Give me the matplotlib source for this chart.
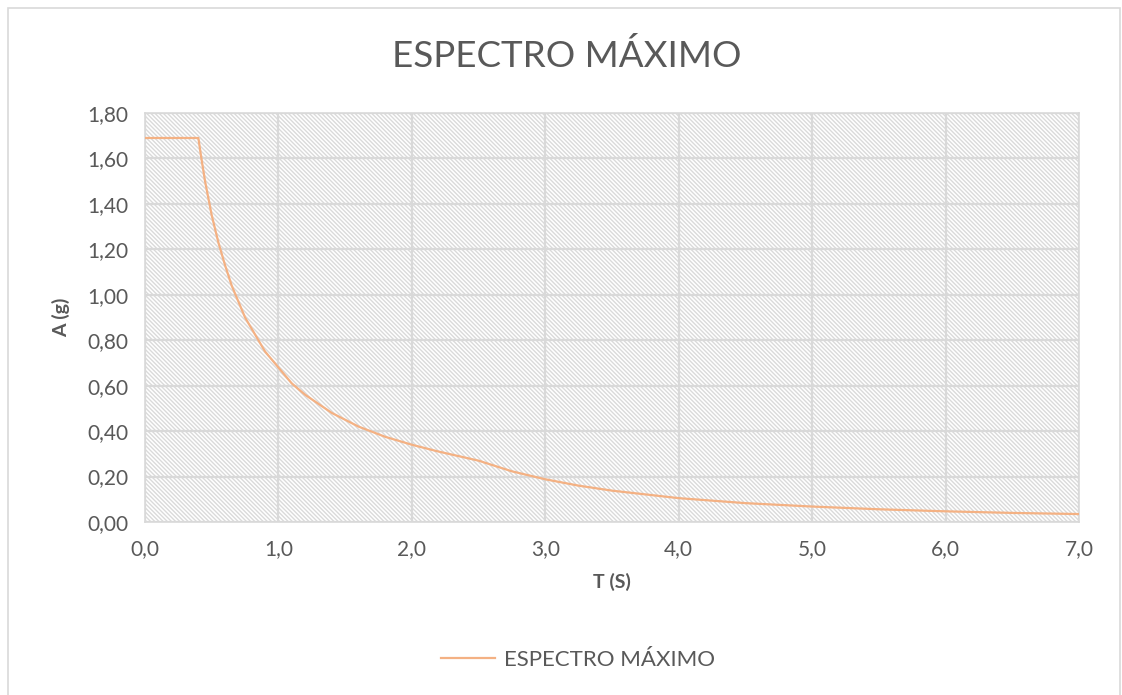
import matplotlib.pyplot as plt
from matplotlib.patches import Rectangle

plt.rcParams['font.family'] = ['Lato', 'DejaVu Sans']
plt.rcParams['hatch.color'] = '#dadada'
plt.rcParams['hatch.linewidth'] = 1.0

# periodo (s) y aceleracion espectral (g)
periodo = [0.0, 0.40, 0.42, 0.45, 0.50, 0.55, 0.60, 0.65, 0.70, 0.75, 0.80,
           0.90, 1.00, 1.10, 1.20, 1.30, 1.40, 1.50, 1.60, 1.80, 2.00, 2.20,
           2.50, 2.75, 3.00, 3.25, 3.50, 4.00, 4.50, 5.00, 5.50, 6.00, 6.50,
           7.00]
acel = [1.69, 1.69, 1.61, 1.50, 1.35, 1.23, 1.13, 1.04, 0.97, 0.90, 0.85,
        0.75, 0.68, 0.61, 0.56, 0.52, 0.48, 0.45, 0.42, 0.375, 0.34, 0.31,
        0.27, 0.223, 0.188, 0.16, 0.138, 0.105, 0.083, 0.068, 0.056, 0.047,
        0.040, 0.035]

xticks = [0, 1, 2, 3, 4, 5, 6, 7]
yticks = [0.0, 0.2, 0.4, 0.6, 0.8, 1.0, 1.2, 1.4, 1.6, 1.8]

fig = plt.figure(figsize=(11.22, 6.95), dpi=100)
fig.patches.append(Rectangle((8 / 1122, -0.01), 1112 / 1122, 1 - 8 / 695 + 0.01,
                             transform=fig.transFigure, fill=False,
                             edgecolor='#d9d9d9', linewidth=1.2))

ax = fig.add_axes([145 / 1122, 1 - 522 / 695, 934 / 1122, 409 / 695])
ax.add_patch(Rectangle((0, 0), 1, 1, transform=ax.transAxes, facecolor='white',
                       hatch='\\' * 8, edgecolor='#dadada', linewidth=0, zorder=0))

ax.plot(periodo, acel, color='#f4b183', linewidth=1.6, zorder=3,
        label='ESPECTRO MÁXIMO')

ax.set_xlim(0, 7)
ax.set_ylim(0, 1.8)
ax.set_xticks(xticks)
ax.set_yticks(yticks)
ax.set_xticklabels([f'{v:.1f}'.replace('.', ',') for v in xticks])
ax.set_yticklabels([f'{v:.2f}'.replace('.', ',') for v in yticks])
ax.grid(True, color='#d9d9d9', linewidth=1.6, zorder=1)
ax.set_axisbelow(True)
for s in ax.spines.values():
    s.set_color('#d9d9d9')
    s.set_linewidth(1.2)
ax.tick_params(length=0, labelsize=15, labelcolor='#595959', pad=12)

ax.set_xlabel('T (S)', fontsize=14, fontweight='bold', color='#595959', labelpad=10)
ax.set_ylabel('A (g)', fontsize=14, fontweight='bold', color='#595959', labelpad=12)

fig.text(567 / 1122, 1 - 56 / 695, 'ESPECTRO MÁXIMO', ha='center', va='center',
         fontsize=26.5, color='#595959')

fig.legend(loc='center', bbox_to_anchor=(578 / 1122, 1 - 660 / 695), frameon=False,
           fontsize=16, labelcolor='#595959', handlelength=2.4, handletextpad=0.4)

fig.savefig('out.png', dpi=100)
